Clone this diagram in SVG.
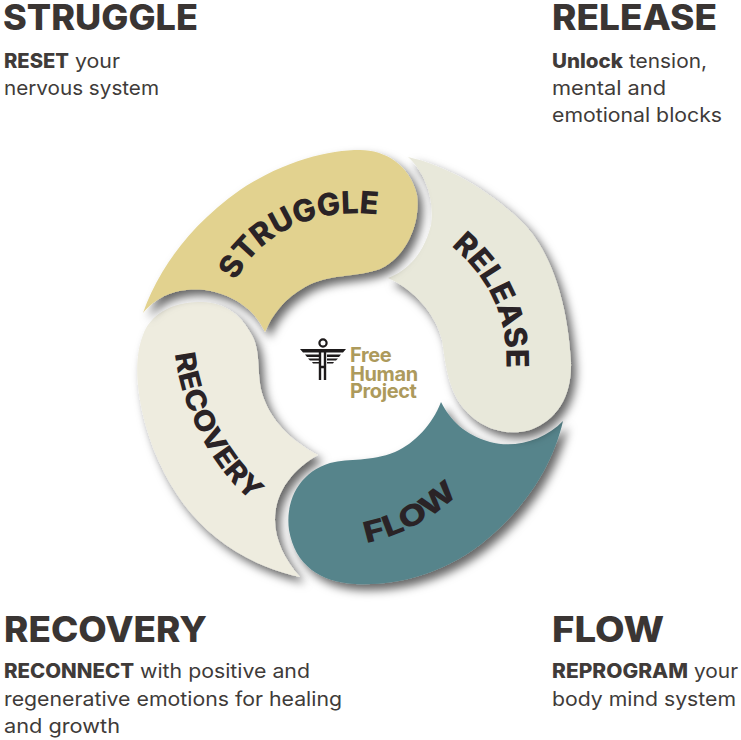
<svg xmlns="http://www.w3.org/2000/svg" width="741" height="740" viewBox="0 0 741 740">
<style>
.h{font-family:"Inter","Liberation Sans",sans-serif;font-weight:800;font-size:35px;fill:#3a3533}
.b{font-family:"Inter","Liberation Sans",sans-serif;font-weight:400;font-size:20px;fill:#403b39}
.b tspan.s{font-weight:800}
.c{font-family:"Inter","Liberation Sans",sans-serif;font-weight:800;fill:#2a2326}
.l{font-family:"Inter","Liberation Sans",sans-serif;font-weight:700;font-size:20px;fill:#ad9a5c}
.seg{filter:url(#sh)}
.wing{fill:#1d1a1b}
</style>
<defs>
<filter id="sh" x="-20%" y="-20%" width="150%" height="150%">
<feDropShadow dx="5" dy="6" stdDeviation="5" flood-color="#000" flood-opacity="0.6"/>
</filter>
<path id="p1" d="M236 281C255 240 310 205 380 215"/>
<path id="p2" d="M451 246C480 270 510 310 506 372"/>
<path id="p3" d="M366 543Q420 532 459 493"/>
<path id="p4" d="M175 354C180 400 205 460 248 498"/>
</defs>
<rect width="741" height="740" fill="#fff"/>
<g id="connectors"/>
<g id="node-recovery">
<path class="seg" fill="#eeecdf" d="M202 302C172 301 150 315 143 335C135 355 135 385 145 423C155 460 172 490 190 512C220 548 260 568 300 577C285 560 275 540 275 520C275 490 295 468 318 455C290 440 270 420 262 393C256 370 262 350 250 332C240 314 225 303 202 302Z"/>
<text class="c" font-size="28"><textPath href="#p4" textLength="170" lengthAdjust="spacingAndGlyphs">RECOVERY</textPath></text>
</g>
<g id="node-flow">
<path class="seg" fill="#56848b" d="M441 402C450 420 465 435 490 442C515 449 545 440 563 421C553 465 525 510 480 545C440 575 395 586 355 584C320 582 295 565 289 530C285 500 300 472 330 463C350 458 370 462 395 452C415 443 432 425 441 402Z"/>
<text class="c" font-size="29"><textPath href="#p3" textLength="106" lengthAdjust="spacingAndGlyphs">FLOW</textPath></text>
</g>
<g id="node-release">
<path class="seg" fill="#e8e8da" d="M408 157C445 165 490 190 525 225C555 258 568 310 571 362C572 395 558 420 530 430C505 437 478 428 461 405C447 385 445 360 442 340C436 315 415 290 388 278C410 270 425 250 431 225C435 200 425 172 408 157Z"/>
<text class="c" font-size="31"><textPath href="#p2" textLength="139" lengthAdjust="spacingAndGlyphs">RELEASE</textPath></text>
</g>
<g id="node-struggle">
<path class="seg" fill="#e2d28f" d="M143 313C158 270 190 225 240 190C285 160 330 150 360 150C385 150 410 165 417 195C421 225 405 258 380 269C355 278 330 273 305 287C285 298 272 315 265 332C255 310 235 295 205 290C175 287 155 298 143 313Z"/>
<text class="c" font-size="31"><textPath href="#p1" textLength="167" lengthAdjust="spacingAndGlyphs">STRUGGLE</textPath></text>
</g>
<g id="node-logo">
<circle cx="323" cy="343" r="3.600" fill="none" stroke="#1d1a1b" stroke-width="2.200"/>
<path class="wing" d="M300 349H346L343 352.500H303ZM305 354.500H319V357H307ZM327 354.500H341L339 357H327ZM308 358.500H319V360.500H310ZM327 358.500H338L336 360.500H327ZM312 362H319V363.500H313ZM327 362H334L333 363.500H327Z"/>
<path fill="none" stroke="#1d1a1b" stroke-width="2.400" d="M320 349V367H325V349M320 367V380M325 367V380"/>
<text class="l" letter-spacing="-.4"><tspan x="350" y="362">Free</tspan><tspan x="350" y="381">Human</tspan><tspan x="350" y="398">Project</tspan></text>
</g>
<g id="label-struggle">
<text class="h" x="3" y="30" textLength="195" lengthAdjust="spacingAndGlyphs">STRUGGLE</text>
<text class="b" x="4" y="68"><tspan class="s" textLength="65" lengthAdjust="spacingAndGlyphs">RESET</tspan><tspan x="75" textLength="45" lengthAdjust="spacingAndGlyphs">your</tspan></text>
<text class="b" x="4" y="95" textLength="155" lengthAdjust="spacingAndGlyphs">nervous system</text>
</g>
<g id="label-release">
<text class="h" x="552" y="30" textLength="165" lengthAdjust="spacingAndGlyphs">RELEASE</text>
<text class="b" x="552" y="68"><tspan class="s" textLength="71" lengthAdjust="spacingAndGlyphs">Unlock</tspan><tspan x="629" textLength="78" lengthAdjust="spacingAndGlyphs">tension,</tspan></text>
<text class="b" x="552" y="95" textLength="114" lengthAdjust="spacingAndGlyphs">mental and</text>
<text class="b" x="552" y="122" textLength="170" lengthAdjust="spacingAndGlyphs">emotional blocks</text>
</g>
<g id="label-recovery">
<text class="h" x="4" y="642" textLength="203" lengthAdjust="spacingAndGlyphs">RECOVERY</text>
<text class="b" x="4" y="678"><tspan class="s" textLength="130" lengthAdjust="spacingAndGlyphs">RECONNECT</tspan><tspan x="140" textLength="170" lengthAdjust="spacingAndGlyphs">with positive and</tspan></text>
<text class="b" x="4" y="706" textLength="338" lengthAdjust="spacingAndGlyphs">regenerative emotions for healing</text>
<text class="b" x="4" y="733" textLength="116" lengthAdjust="spacingAndGlyphs">and growth</text>
</g>
<g id="label-flow">
<text class="h" x="552" y="642" textLength="112" lengthAdjust="spacingAndGlyphs">FLOW</text>
<text class="b" x="552" y="678"><tspan class="s" textLength="136" lengthAdjust="spacingAndGlyphs">REPROGRAM</tspan><tspan x="694" textLength="44" lengthAdjust="spacingAndGlyphs">your</tspan></text>
<text class="b" x="552" y="706" textLength="184" lengthAdjust="spacingAndGlyphs">body mind system</text>
</g>
</svg>
